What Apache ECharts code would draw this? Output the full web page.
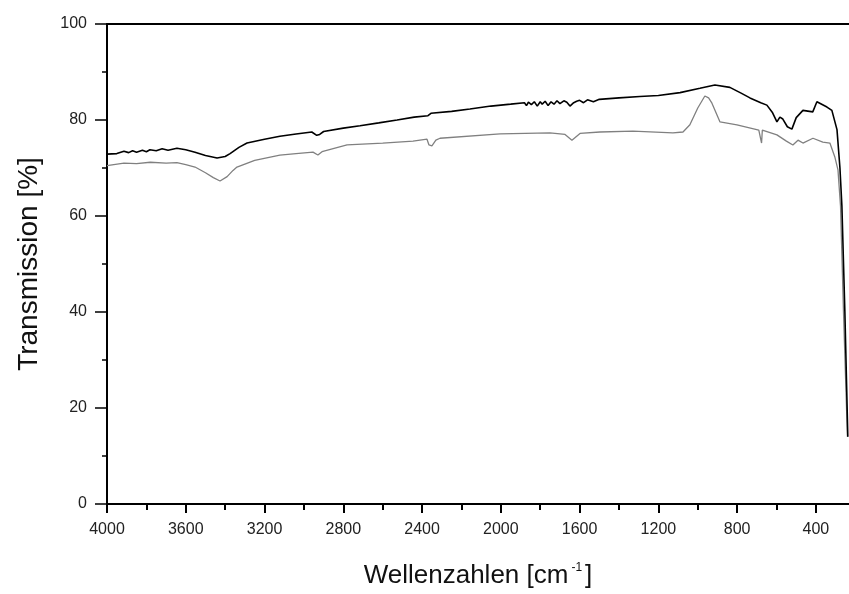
<!DOCTYPE html>
<html><head><meta charset="utf-8">
<script src="https://cdn.jsdelivr.net/npm/echarts@6/dist/echarts.min.js"></script>
<style>html,body{margin:0;padding:0;background:#fff}#c{width:849px;height:594px}</style>
</head><body><div id="c"></div>
<script>
const xTicks = [400, 800, 1200, 1600, 2000, 2400, 2800, 3200, 3600, 4000];
const xMinorTicks = [600, 1000, 1400, 1800, 2200, 2600, 3000, 3400, 3800];
const blackWN = [4000,3950,3914,3890,3870,3850,3820,3800,3782,3750,3720,3690,3645,3600,3553,3500,3441,3400,3375,3330,3289,3200,3122,3040,2960,2935,2920,2900,2800,2715,2620,2527,2440,2370,2355,2250,2157,2050,1950,1880,1870,1860,1845,1830,1815,1800,1790,1775,1760,1745,1730,1715,1700,1680,1665,1649,1630,1615,1600,1580,1560,1530,1500,1400,1294,1200,1090,989,913,837,780,735,680,649,620,598,583,568,545,522,500,466,416,395,344,319,293,278,268,253,238];
const blackT = [72.9,73.0,73.5,73.2,73.6,73.3,73.7,73.4,73.8,73.6,74.0,73.7,74.1,73.8,73.3,72.6,72.1,72.4,73.0,74.3,75.2,76.0,76.6,77.1,77.5,76.8,77.0,77.6,78.3,78.8,79.4,80.0,80.6,80.9,81.4,81.8,82.3,82.9,83.3,83.6,83.0,83.7,83.2,83.8,82.9,83.8,83.3,83.9,83.0,83.8,83.3,84.0,83.4,84.0,83.7,82.9,83.6,83.9,84.1,83.6,84.2,83.8,84.3,84.6,84.9,85.1,85.7,86.6,87.3,86.8,85.6,84.6,83.6,83.1,81.5,79.6,80.6,80.2,78.6,78.1,80.5,82.0,81.7,83.8,82.7,82.0,78,70,62,40,14];
const grayWN = [4000,3914,3850,3780,3700,3645,3600,3553,3500,3460,3426,3390,3360,3340,3250,3122,3040,2954,2929,2908,2781,2600,2446,2375,2365,2350,2330,2309,2004,1751,1674,1639,1598,1497,1329,1126,1075,1040,1000,964,945,928,887,801,690,676,672,598,550,517,491,466,415,365,329,304,288,275,260,240];
const grayT = [70.5,71.0,70.9,71.2,71.0,71.1,70.7,70.2,69.0,68.0,67.3,68.2,69.5,70.2,71.6,72.7,73.0,73.3,72.7,73.4,74.8,75.2,75.6,76.0,74.8,74.6,75.8,76.2,77.1,77.3,77.0,75.8,77.2,77.5,77.7,77.3,77.5,79.0,82.5,85.0,84.6,83.5,79.6,79.0,77.9,75.2,77.9,76.9,75.6,74.8,75.8,75.2,76.2,75.4,75.2,72.3,69.6,62,40,14];

const zip = (a, b) => a.map((v, i) => [v, b[i]]);
const XMIN = 232, XMAX = 4000;
const font = 'Liberation Sans, Arial, sans-serif';
const chart = echarts.init(document.getElementById('c'));
chart.setOption({
  animation: false,
  backgroundColor: '#fff',
  grid: { left: 107, right: 0, top: 24, bottom: 90 },
  xAxis: [
    { type: 'value', min: XMIN, max: XMAX, inverse: true, position: 'bottom',
      axisLine: { show: true, lineStyle: { color: '#000', width: 2 } },
      axisTick: { show: true, inside: false, length: 9, customValues: xTicks, lineStyle: { color: '#000', width: 2 } },
      axisLabel: { show: true, customValues: xTicks, margin: 18, color: '#222', fontSize: 16, fontFamily: font,
        formatter: v => String(v) },
      splitLine: { show: false },
      name: '{a|Wellenzahlen [cm}{s|-1}{a|]}', nameLocation: 'middle', nameGap: 58,
      nameTextStyle: { rich: {
        a: { fontSize: 26, fontFamily: font, color: '#111' },
        s: { fontSize: 12, fontFamily: font, color: '#111', verticalAlign: 'top', padding: [0, 3, 16, 3] } } } },
    { type: 'value', min: XMIN, max: XMAX, inverse: true, position: 'bottom',
      axisLine: { show: false },
      axisTick: { show: true, inside: false, length: 6, customValues: xMinorTicks, lineStyle: { color: '#000', width: 2 } },
      axisLabel: { show: false }, splitLine: { show: false } },
    { type: 'value', min: XMIN, max: XMAX, inverse: true, position: 'top',
      axisLine: { show: true, lineStyle: { color: '#000', width: 2 } },
      axisTick: { show: false }, axisLabel: { show: false }, splitLine: { show: false } }
  ],
  yAxis: { type: 'value', min: 0, max: 100, interval: 20,
    axisLine: { show: true, lineStyle: { color: '#000', width: 2 } },
    axisTick: { show: true, inside: false, length: 12, lineStyle: { color: '#000', width: 1.5 } },
    minorTick: { show: true, splitNumber: 2, length: 5, lineStyle: { color: '#000', width: 1.5 } },
    axisLabel: { margin: 20, color: '#222', fontSize: 16, fontFamily: font },
    splitLine: { show: false },
    name: 'Transmission [%]', nameLocation: 'middle', nameGap: 64,
    nameTextStyle: { fontSize: 28, fontFamily: font, color: '#111' } },
  series: [
    { type: 'line', data: zip(grayWN, grayT), showSymbol: false, lineStyle: { color: '#808080', width: 1.3 }, z: 2 },
    { type: 'line', data: zip(blackWN, blackT), showSymbol: false, lineStyle: { color: '#000', width: 1.6 }, z: 3 }
  ]
});
</script></body></html>
